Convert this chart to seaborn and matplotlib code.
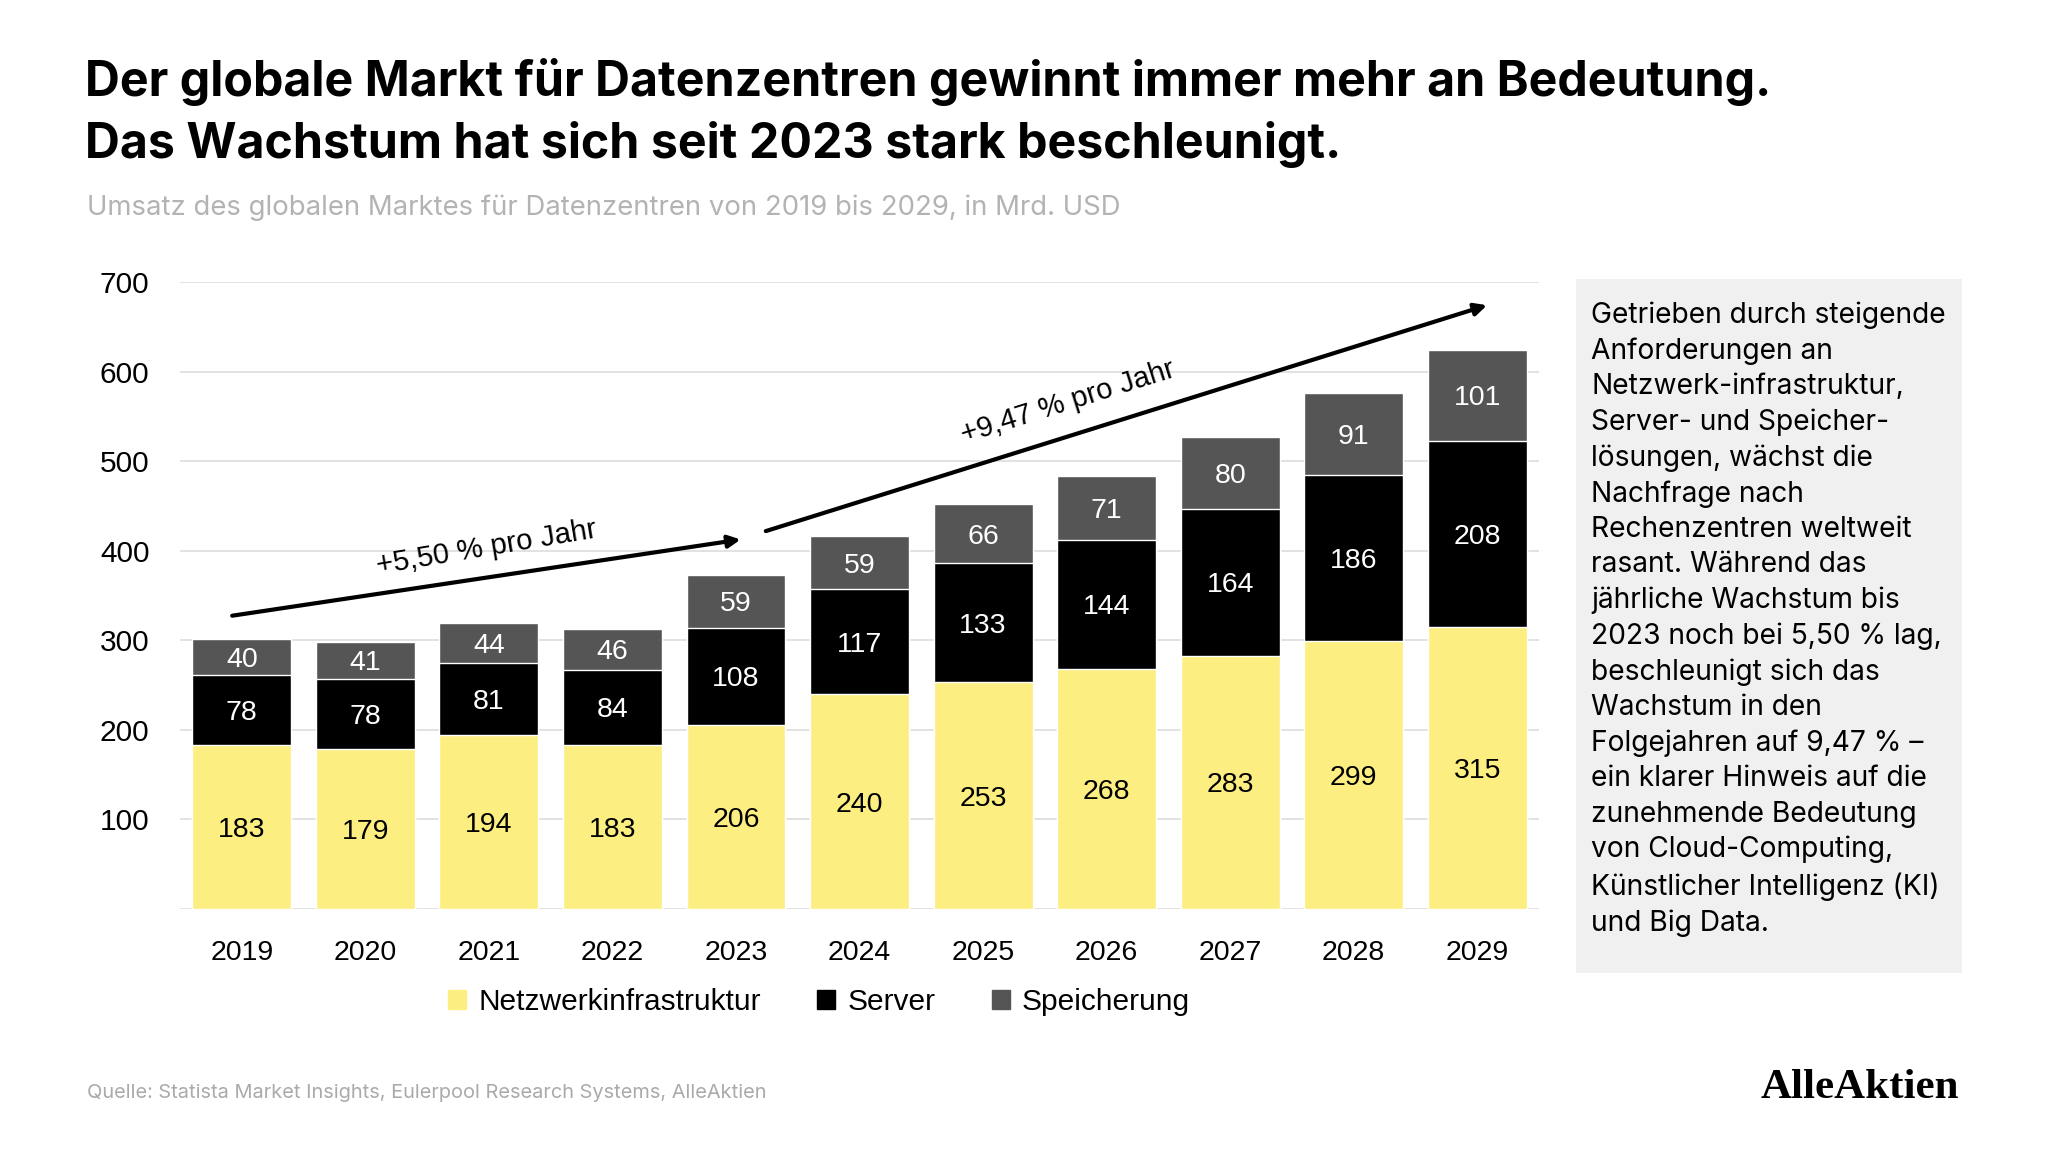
import matplotlib
matplotlib.use("Agg")
import matplotlib.pyplot as plt
import matplotlib.patches as mpatches
import pandas as pd
import seaborn as sns

# Daten
jahre = ["2019", "2020", "2021", "2022", "2023", "2024", "2025", "2026", "2027", "2028", "2029"]
netzwerk = [183, 179, 194, 183, 206, 240, 253, 268, 283, 299, 315]
server = [78, 78, 81, 84, 108, 117, 133, 144, 164, 186, 208]
speicher = [40, 41, 44, 46, 59, 59, 66, 71, 80, 91, 101]
y_ticks = [0, 100, 200, 300, 400, 500, 600, 700]

GELB = "#fcee80"
SCHWARZ = "#000000"
GRAU = "#555555"

df = pd.DataFrame({"Jahr": jahre, "Netzwerk": netzwerk, "Server": server, "Speicher": speicher})
df["Stufe2"] = df["Netzwerk"] + df["Server"]
df["Gesamt"] = df["Stufe2"] + df["Speicher"]

sns.set_theme(style="white")
plt.rcParams["font.family"] = ["Liberation Sans", "DejaVu Sans"]
plt.rcParams["text.color"] = "black"

fig = plt.figure(figsize=(20.48, 11.52), dpi=100)
ax = fig.add_axes([0.0879, 0.2109, 0.6636, 0.5443])

# gestapelte Balken: von hinten nach vorne
sns.barplot(data=df, x="Jahr", y="Gesamt", color=GRAU, width=0.8, saturation=1, ax=ax, zorder=2)
sns.barplot(data=df, x="Jahr", y="Stufe2", color=SCHWARZ, width=0.8, saturation=1, ax=ax, zorder=3)
sns.barplot(data=df, x="Jahr", y="Netzwerk", color=GELB, width=0.8, saturation=1, ax=ax, zorder=4)

# Werte in den Balken
for i, row in df.iterrows():
    ax.text(i, row["Netzwerk"] / 2, str(row["Netzwerk"]), ha="center", va="center_baseline",
            fontsize=20.5, color="black", zorder=5)
    ax.text(i, row["Netzwerk"] + row["Server"] / 2, str(row["Server"]), ha="center",
            va="center_baseline", fontsize=20.5, color="white", zorder=5)
    ax.text(i, row["Stufe2"] + row["Speicher"] / 2, str(row["Speicher"]), ha="center",
            va="center_baseline", fontsize=20.5, color="white", zorder=5)

ax.set_xlim(-0.5, 10.5)
ax.set_ylim(0, 700)
ax.set_yticks(y_ticks)
ax.set_yticklabels([""] + [str(t) for t in y_ticks[1:]])
ax.set_xlabel("")
ax.set_ylabel("")
ax.tick_params(axis="both", length=0, labelsize=20.5, colors="black")
ax.tick_params(axis="y", pad=22, labelsize=21.5)
ax.tick_params(axis="x", pad=22)
ax.grid(axis="y", color="#dddddd", linewidth=1.2, zorder=0)
ax.set_axisbelow(True)
for s in ax.spines.values():
    s.set_visible(False)

# Wachstumspfeile
ax.annotate("", xy=(4.06, 413), xytext=(-0.1, 327),
            arrowprops=dict(arrowstyle="-|>", color="black", lw=3, mutation_scale=18), zorder=6)
ax.annotate("", xy=(10.1, 675), xytext=(4.22, 421),
            arrowprops=dict(arrowstyle="-|>", color="black", lw=3, mutation_scale=18), zorder=6)
ax.text(1.98, 403, "+5,50 % pro Jahr", rotation=9.5, ha="center", va="center", fontsize=21)
ax.text(6.69, 566, "+9,47 % pro Jahr", rotation=17.5, ha="center", va="center", fontsize=21)

# Legende
handles = [mpatches.Patch(color=GELB, label="Netzwerkinfrastruktur"),
           mpatches.Patch(color=SCHWARZ, label="Server"),
           mpatches.Patch(color=GRAU, label="Speicherung")]
fig.legend(handles=handles, loc="center", bbox_to_anchor=(0.40, 0.130), ncol=3, frameon=False,
           fontsize=21.5, handlelength=0.6, handleheight=0.6, handletextpad=0.4, columnspacing=1.9)

# Titel
fig.text(0.0415, 0.9285, "Der globale Markt für Datenzentren gewinnt immer mehr an Bedeutung.",
         fontsize=34.8, fontweight="bold", family=["Inter", "DejaVu Sans"], va="center")
fig.text(0.0415, 0.8745, "Das Wachstum hat sich seit 2023 stark beschleunigt.",
         fontsize=34.8, fontweight="bold", family=["Inter", "DejaVu Sans"], va="center")
fig.text(0.0425, 0.820, "Umsatz des globalen Marktes für Datenzentren von 2019 bis 2029, in Mrd. USD",
         fontsize=19.8, color="#b3b3b3", family=["Inter", "DejaVu Sans"], va="center")

# Textkasten
fig.patches.append(mpatches.Rectangle((0.7695, 0.1554), 0.1885, 0.6024, transform=fig.transFigure,
                                      facecolor="#f0f0f0", edgecolor="none", zorder=0))
kasten = ("Getrieben durch steigende\nAnforderungen an\nNetzwerk-infrastruktur,\nServer- und Speicher-\n"
          "lösungen, wächst die\nNachfrage nach\nRechenzentren weltweit\nrasant. Während das\n"
          "jährliche Wachstum bis\n2023 noch bei 5,50 % lag,\nbeschleunigt sich das\nWachstum in den\n"
          "Folgejahren auf 9,47 % –\nein klarer Hinweis auf die\nzunehmende Bedeutung\n"
          "von Cloud-Computing,\nKünstlicher Intelligenz (KI)\nund Big Data.")
fig.text(0.7769, 0.7380, kasten, fontsize=20.3, family=["Inter", "DejaVu Sans"], va="top", ha="left",
         linespacing=1.39)

# Quelle und Logo
fig.text(0.0425, 0.0512, "Quelle: Statista Market Insights, Eulerpool Research Systems, AlleAktien",
         fontsize=14.4, color="#aaaaaa", family=["Inter", "DejaVu Sans"], va="center")
fig.text(0.9565, 0.0556, "AlleAktien", fontsize=31, fontweight="bold",
         family=["Liberation Serif", "DejaVu Serif"], ha="right", va="center")

fig.savefig("out.png", dpi=100)
